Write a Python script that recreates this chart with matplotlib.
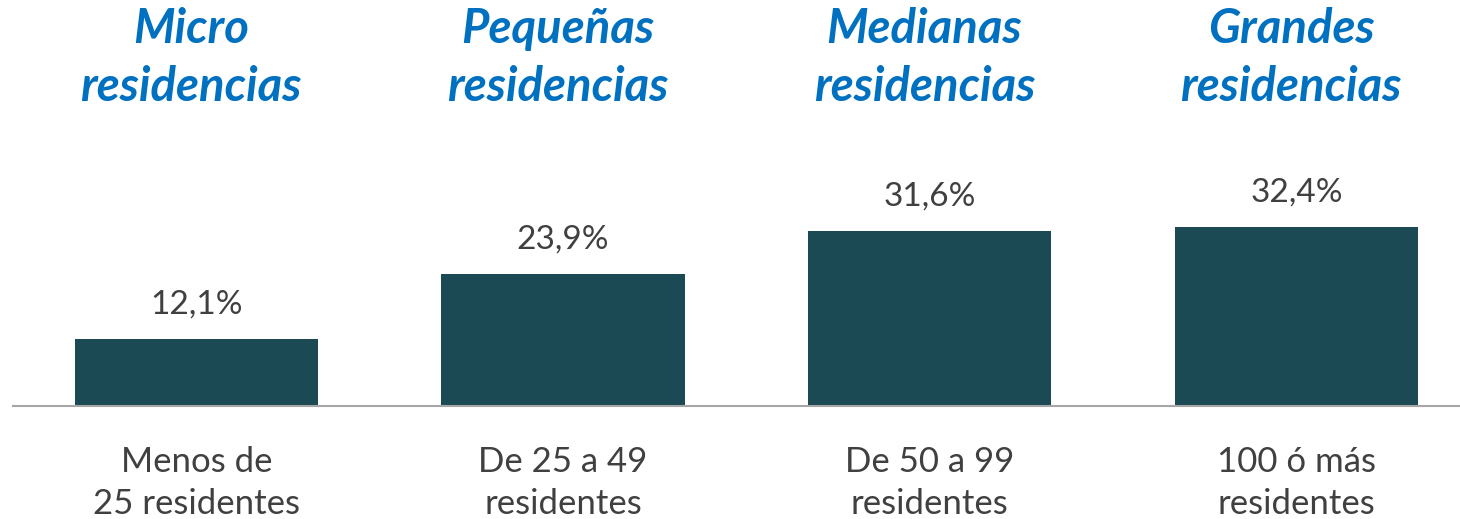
import matplotlib.pyplot as plt
from matplotlib.transforms import blended_transform_factory

# data
groups = ['Micro\nresidencias', 'Pequeñas\nresidencias', 'Medianas\nresidencias', 'Grandes\nresidencias']
categories = ['Menos de\n25 residentes', 'De 25 a 49\nresidentes', 'De 50 a 99\nresidentes', '100 ó más\nresidentes']
values = [12.1, 23.9, 31.6, 32.4]
labels = ['12,1%', '23,9%', '31,6%', '32,4%']

barColor = '#1B4A55'
textColor = '#404040'
titleColor = '#0070C0'

plt.rcParams['font.family'] = ['Lato', 'DejaVu Sans']

fig = plt.figure(figsize=(14.6, 5.19), dpi=100)
ax = fig.add_axes([13 / 1460, 113 / 519, 1447 / 1460, 221.6 / 519])

x = list(range(len(values)))
bars = ax.bar(x, values, width=0.663, color=barColor)
ax.set_xlim(-0.5, -0.5 + 1447 / 366.7)
ax.set_ylim(0, 40)

# value labels above bars
for xi, v, lab in zip(x, values, labels):
    ax.annotate(lab, (xi, v), xytext=(0, 14), textcoords='offset points',
                ha='center', va='bottom', fontsize=24, color=textColor)

# category labels under the axis
ax.set_xticks(x)
ax.set_xticklabels(categories, fontsize=25, color=textColor, linespacing=1.38)
ax.tick_params(axis='x', length=0, pad=29)
ax.set_yticks([])

for s in ['top', 'right', 'left']:
    ax.spines[s].set_visible(False)
ax.spines['bottom'].set_color('#A6A6A6')
ax.spines['bottom'].set_linewidth(1.5)

# group titles on top
trans = blended_transform_factory(ax.transData, fig.transFigure)
for xi, g in zip(x, groups):
    ax.text(xi - 0.015, 1 - 58 / 519, g, transform=trans, ha='center', va='center',
            fontsize=34, fontweight='bold', fontstyle='italic', color=titleColor,
            linespacing=1.4)

fig.savefig('out.png', dpi=100)
